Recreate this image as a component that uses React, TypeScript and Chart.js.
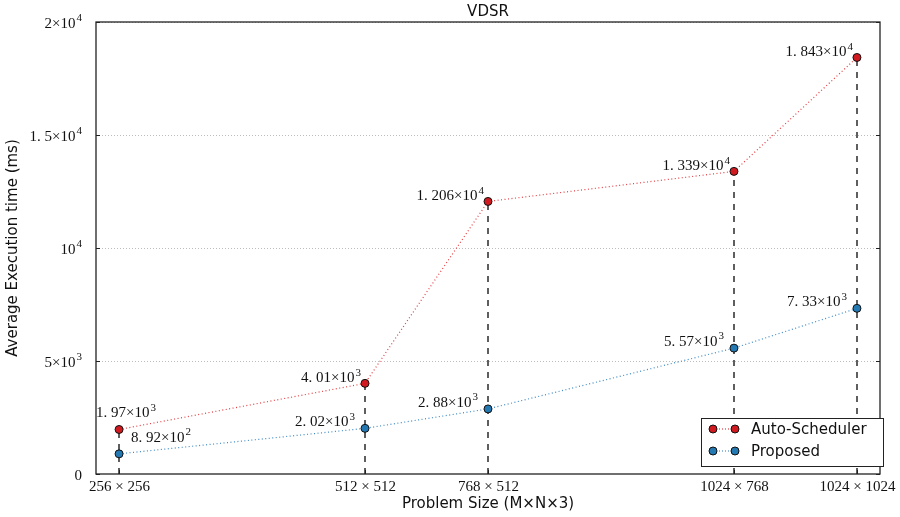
import React, { useEffect, useRef } from "react";
import { Chart, registerables } from "chart.js";

Chart.register(...registerables);

const categories = ["256 × 256", "512 × 512", "768 × 512", "1024 × 768", "1024 × 1024"];
const sizeM = [256, 512, 768, 1024, 1024];
const sizeN = [256, 512, 512, 768, 1024];
const autoScheduler = [1970, 4010, 12060, 13390, 18430];
const proposed = [892, 2020, 2880, 5570, 7330];
const yTickValues = [0, 5000, 10000, 15000, 20000];
const yTickLabels: [string, string | null][] = [
  ["0", null],
  ["5×10", "3"],
  ["10", "4"],
  ["1. 5×10", "4"],
  ["2×10", "4"],
];
const xValues = sizeM.map((m, i) => m + sizeN[i]);

const SERIF = "'Liberation Serif', 'DejaVu Serif', serif";
const SANS = "'DejaVu Sans', sans-serif";
const RED = "#d11a1f";
const BLUE = "#2479b3";

function sciParts(v: number): [string, string] {
  const e = Math.floor(Math.log10(v));
  const m = +(v / Math.pow(10, e)).toFixed(3);
  const s = String(m).replace(".", ". ");
  return [s + "×10", String(e)];
}

function drawSci(
  ctx: CanvasRenderingContext2D,
  main: string,
  exp: string | null,
  x: number,
  y: number,
  align: "left" | "right" | "center",
  size = 15
) {
  ctx.save();
  ctx.textBaseline = "alphabetic";
  ctx.textAlign = "left";
  ctx.font = `${size}px ${SERIF}`;
  const w1 = ctx.measureText(main).width;
  ctx.font = `${Math.round(size * 0.7)}px ${SERIF}`;
  const w2 = exp ? ctx.measureText(exp).width + 1 : 0;
  const total = w1 + w2;
  let sx = x;
  if (align === "right") sx = x - total;
  else if (align === "center") sx = x - total / 2;
  ctx.fillStyle = "#111";
  ctx.font = `${size}px ${SERIF}`;
  ctx.fillText(main, sx, y);
  if (exp) {
    ctx.font = `${Math.round(size * 0.7)}px ${SERIF}`;
    ctx.fillText(exp, sx + w1 + 1, y - size * 0.45);
  }
  ctx.restore();
}

const customPlugin = {
  id: "custom",
  beforeDatasetsDraw(chart: any) {
    const { ctx, chartArea, scales } = chart;
    const xs = scales.x;
    const ys = scales.y;
    ctx.save();
    // grid
    ctx.strokeStyle = "#bdbdbd";
    ctx.lineWidth = 1;
    ctx.setLineDash([1, 2]);
    yTickValues.forEach((v) => {
      if (v === 0) return;
      const py = Math.round(ys.getPixelForValue(v)) + 0.5;
      ctx.beginPath();
      ctx.moveTo(chartArea.left, py);
      ctx.lineTo(chartArea.right, py);
      ctx.stroke();
    });
    // vertical dashed drop lines
    ctx.strokeStyle = "#2a2a2a";
    ctx.lineWidth = 1.5;
    ctx.setLineDash([6, 6]);
    xValues.forEach((xv, i) => {
      const px = Math.round(xs.getPixelForValue(xv));
      const top = ys.getPixelForValue(Math.max(autoScheduler[i], proposed[i]));
      ctx.beginPath();
      ctx.moveTo(px, chartArea.bottom);
      ctx.lineTo(px, top);
      ctx.stroke();
    });
    ctx.restore();
  },
  afterDraw(chart: any) {
    const { ctx, chartArea, scales } = chart;
    const xs = scales.x;
    const ys = scales.y;
    ctx.save();
    // frame
    ctx.setLineDash([]);
    ctx.strokeStyle = "#222";
    ctx.lineWidth = 1.3;
    ctx.strokeRect(chartArea.left, chartArea.top, chartArea.right - chartArea.left, chartArea.bottom - chartArea.top);
    // y ticks marks + labels
    ctx.lineWidth = 1;
    yTickValues.forEach((v, i) => {
      const py = Math.round(ys.getPixelForValue(v)) + 0.5;
      ctx.beginPath();
      ctx.moveTo(chartArea.left, py);
      ctx.lineTo(chartArea.left + 4, py);
      ctx.moveTo(chartArea.right, py);
      ctx.lineTo(chartArea.right - 4, py);
      ctx.stroke();
      const [m, e] = yTickLabels[i];
      drawSci(ctx, m, e, chartArea.left - 14, py + 5, "right", 15);
    });
    // x tick marks + labels
    xValues.forEach((xv, i) => {
      const px = Math.round(xs.getPixelForValue(xv)) + 0.5;
      ctx.beginPath();
      ctx.moveTo(px, chartArea.bottom);
      ctx.lineTo(px, chartArea.bottom - 4);
      ctx.stroke();
      ctx.font = `15px ${SERIF}`;
      ctx.fillStyle = "#111";
      ctx.textAlign = "center";
      ctx.textBaseline = "alphabetic";
      ctx.fillText(categories[i], px, chartArea.bottom + 17);
    });
    // point annotations
    autoScheduler.forEach((v, i) => {
      const px = xs.getPixelForValue(xValues[i]);
      const py = ys.getPixelForValue(v);
      const [m, e] = sciParts(v);
      if (i === 0) drawSci(ctx, m, e, px + 7, py - 12, "center", 15);
      else drawSci(ctx, m, e, px - 4, py - 1, "right", 15);
    });
    proposed.forEach((v, i) => {
      const px = xs.getPixelForValue(xValues[i]);
      const py = ys.getPixelForValue(v);
      const [m, e] = sciParts(v);
      if (i === 0) drawSci(ctx, m, e, px + 12, py - 12, "left", 15);
      else drawSci(ctx, m, e, px - 10, py - 2, "right", 15);
    });
    // titles
    ctx.fillStyle = "#111";
    ctx.textAlign = "center";
    ctx.textBaseline = "middle";
    ctx.font = `15px ${SANS}`;
    ctx.fillText("VDSR", (chartArea.left + chartArea.right) / 2, 12);
    ctx.fillText("Problem Size (M×N×3)", (chartArea.left + chartArea.right) / 2, 504);
    ctx.save();
    ctx.translate(13, (chartArea.top + chartArea.bottom) / 2);
    ctx.rotate(-Math.PI / 2);
    ctx.fillText("Average Execution time (ms)", 0, 0);
    ctx.restore();
    // legend
    const lx = 701, ly = 418, lw = 182, lh = 48;
    ctx.fillStyle = "#fff";
    ctx.fillRect(lx, ly, lw, lh);
    ctx.strokeStyle = "#222";
    ctx.lineWidth = 1;
    ctx.strokeRect(lx + 0.5, ly + 0.5, lw, lh);
    const entries: [string, string][] = [["Auto-Scheduler", RED], ["Proposed", BLUE]];
    entries.forEach(([label, col], i) => {
      const ry = ly + 11 + i * 22;
      ctx.strokeStyle = col;
      ctx.lineWidth = 1;
      ctx.setLineDash([1, 2]);
      ctx.beginPath();
      ctx.moveTo(713, ry);
      ctx.lineTo(735, ry);
      ctx.stroke();
      ctx.setLineDash([]);
      [713, 735].forEach((mx) => {
        ctx.beginPath();
        ctx.arc(mx, ry, 4, 0, Math.PI * 2);
        ctx.fillStyle = col;
        ctx.fill();
        ctx.strokeStyle = "#111";
        ctx.stroke();
      });
      ctx.fillStyle = "#111";
      ctx.textAlign = "left";
      ctx.textBaseline = "middle";
      ctx.font = `15px ${SANS}`;
      ctx.fillText(label, 751, ry + 1);
    });
    ctx.restore();
  },
};

export default function App() {
  const ref = useRef<HTMLCanvasElement>(null);
  useEffect(() => {
    document.body.style.margin = "0";
    const chart = new Chart(ref.current!, {
      type: "line",
      data: {
        datasets: [
          {
            label: "Auto-Scheduler",
            data: xValues.map((x, i) => ({ x, y: autoScheduler[i] })),
            borderColor: "rgba(225,40,45,0.9)",
            borderWidth: 1.2,
            borderDash: [1, 2.5],
            backgroundColor: RED,
            pointBackgroundColor: RED,
            pointBorderColor: "#111",
            pointBorderWidth: 1,
            pointRadius: 4,
            tension: 0,
          },
          {
            label: "Proposed",
            data: xValues.map((x, i) => ({ x, y: proposed[i] })),
            borderColor: "rgba(40,125,190,0.9)",
            borderWidth: 1.2,
            borderDash: [1, 2.5],
            backgroundColor: BLUE,
            pointBackgroundColor: BLUE,
            pointBorderColor: "#111",
            pointBorderWidth: 1,
            pointRadius: 4,
            tension: 0,
          },
        ],
      },
      options: {
        animation: false,
        responsive: false,
        maintainAspectRatio: false,
        layout: { padding: { top: 22, right: 20, left: 0, bottom: 0 } },
        plugins: { legend: { display: false }, title: { display: false }, tooltip: { enabled: false } },
        scales: {
          x: {
            type: "linear",
            min: 464,
            max: 2096,
            grid: { display: false },
            border: { display: false },
            ticks: { display: false },
            afterFit: (s: any) => { s.height = 43; },
          },
          y: {
            type: "linear",
            min: 0,
            max: 20000,
            grid: { display: false },
            border: { display: false },
            ticks: { display: false },
            afterFit: (s: any) => { s.width = 96; },
          },
        },
      },
      plugins: [customPlugin],
    });
    return () => chart.destroy();
  }, []);
  return (
    <div style={{ width: 900, height: 517 }}>
      <canvas ref={ref} width={900} height={517} style={{ display: "block" }} />
    </div>
  );
}
